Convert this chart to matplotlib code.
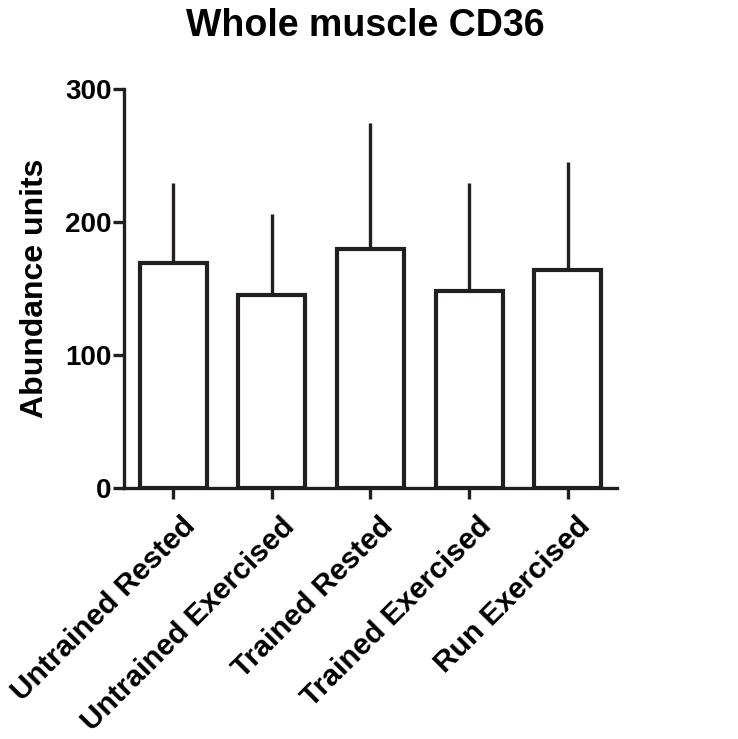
import matplotlib
matplotlib.use("Agg")
import matplotlib.pyplot as plt
from matplotlib.transforms import ScaledTranslation

plt.rcParams['font.family'] = ['Liberation Sans', 'DejaVu Sans']

# Data
groups = ['Untrained Rested', 'Untrained Exercised', 'Trained Rested',
          'Trained Exercised', 'Run Exercised']
means = [169, 145, 180, 148, 164]
upper = [229, 206, 274, 229, 245]
err = [u - m for u, m in zip(upper, means)]

fig = plt.figure(figsize=(7.38, 7.39), dpi=100)
ax = fig.add_axes([0.168, 0.3397, 0.668, 0.54])

x = range(len(groups))
ax.bar(x, means, width=0.68, color='white', edgecolor='#231f20', linewidth=3.0, zorder=2)
ax.errorbar(x, means, yerr=[[0]*len(err), err], fmt='none', ecolor='#231f20',
            elinewidth=2.4, capsize=0, zorder=1)

ax.set_xlim(-0.5, 4.5)
ax.set_ylim(0, 300)
ax.set_yticks([0, 100, 200, 300])
ax.set_xticks(list(x))
ax.set_xticklabels([])
# rotated category labels, nudged right of the tick like the original
offset = ScaledTranslation(0.18, -0.34, fig.dpi_scale_trans)
for i, g in enumerate(groups):
    ax.text(i, 0, g, transform=ax.get_xaxis_transform() + offset,
            rotation=45, ha='right', va='center', rotation_mode='anchor',
            fontsize=21.5, fontweight='bold')
for lbl in ax.get_yticklabels():
    lbl.set_fontsize(20)
    lbl.set_fontweight('bold')

for s in ['top', 'right']:
    ax.spines[s].set_visible(False)
for s in ['left', 'bottom']:
    ax.spines[s].set_linewidth(2.4)
    ax.spines[s].set_color('#231f20')
ax.tick_params(axis='both', width=2.4, length=8, color='#231f20')
ax.tick_params(axis='y', pad=1)

ax.set_ylabel('Abundance units', fontsize=23, fontweight='bold', labelpad=11)
ax.set_title('Whole muscle CD36', fontsize=27, fontweight='bold', pad=38, x=0.49)

fig.savefig('out.png', dpi=100)
